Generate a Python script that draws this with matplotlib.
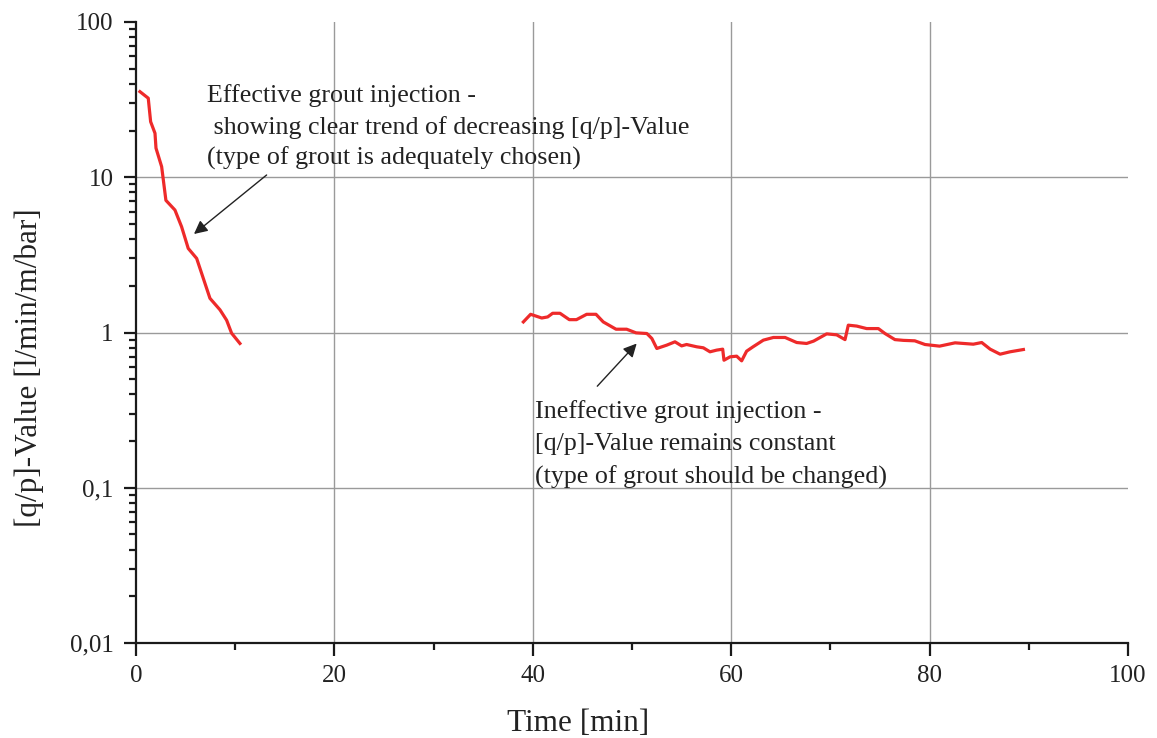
import matplotlib
matplotlib.use("Agg")
import matplotlib.pyplot as plt
from matplotlib.ticker import FixedLocator, LogLocator, NullFormatter

plt.rcParams["font.family"] = ["Liberation Serif", "DejaVu Serif"]

# effective injection: time [min] and q/p value
t_eff = [0.4, 1.24, 1.48, 1.92, 2.02, 2.59, 3.02, 3.93, 4.6, 5.27, 6.12, 7.46, 8.47, 9.14, 9.64, 10.48]
qp_eff = [35.6, 32.3, 22.8, 19.2, 15.4, 11.7, 7.1, 6.15, 4.8, 3.48, 3.0, 1.66, 1.40, 1.2, 0.99, 0.85]

# ineffective injection
t_ineff = [39.05, 39.78, 40.9, 41.5, 42.0, 42.74, 43.68, 44.4, 45.43, 46.37, 47.1, 48.39, 49.46,
           50.4, 51.5, 52.0, 52.5, 53.5, 54.33, 55.0, 55.5, 56.52, 57.19, 57.86, 58.53, 59.14,
           59.27, 59.88, 60.55, 61.05, 61.55, 62.2, 63.24, 64.25, 65.43, 66.6, 67.6, 68.3, 69.62,
           70.63, 71.47, 71.8, 72.65, 73.65, 74.83, 75.5, 76.5, 77.35, 78.5, 79.53, 81.0, 82.56,
           84.4, 85.25, 86.1, 87.1, 88.1, 89.45]
qp_ineff = [1.17, 1.31, 1.24, 1.26, 1.33, 1.33, 1.21, 1.21, 1.31, 1.31, 1.17, 1.05, 1.05,
            0.995, 0.985, 0.915, 0.789, 0.829, 0.871, 0.82, 0.837, 0.809, 0.797, 0.751, 0.77, 0.781,
            0.663, 0.697, 0.704, 0.657, 0.758, 0.809, 0.893, 0.929, 0.929, 0.862, 0.85, 0.88, 0.98,
            0.966, 0.90, 1.115, 1.10, 1.06, 1.06, 0.985, 0.90, 0.89, 0.884, 0.837, 0.817, 0.858,
            0.841, 0.862, 0.781, 0.725, 0.751, 0.777]

x_ticks = [0, 20, 40, 60, 80, 100]
y_ticks = [0.01, 0.1, 1, 10, 100]
y_ticklabels = ["0,01", "0,1", "1", "10", "100"]
x_grid = [20, 40, 60, 80]
y_grid = [0.1, 1, 10]

fig = plt.figure(figsize=(11.57, 7.38), dpi=100)
ax = fig.add_axes([0.1175, 0.1287, 0.8575, 0.8415])

for v in x_grid:
    ax.axvline(v, color="#9a9a9a", lw=1.0, zorder=1)
for v in y_grid:
    ax.axhline(v, color="#9a9a9a", lw=1.0, zorder=1)

ax.plot(t_eff, qp_eff, color="#ee2a2a", lw=2.3, zorder=3)
ax.plot(t_ineff, qp_ineff, color="#ee2a2a", lw=2.3, zorder=3)

ax.set_yscale("log")
ax.set_xlim(0, 100)
ax.set_ylim(0.01, 100)
ax.set_xticks(x_ticks)
ax.xaxis.set_minor_locator(FixedLocator([10, 30, 50, 70, 90]))
ax.set_yticks(y_ticks)
ax.set_yticklabels(y_ticklabels)
ax.yaxis.set_minor_locator(LogLocator(base=10, subs=range(2, 10)))
ax.yaxis.set_minor_formatter(NullFormatter())

for s in ["top", "right"]:
    ax.spines[s].set_visible(False)
for s in ["left", "bottom"]:
    ax.spines[s].set_linewidth(1.6)
    ax.spines[s].set_color("#1a1a1a")

ax.tick_params(which="major", direction="out", length=9, width=1.6, color="#1a1a1a",
               labelsize=18, labelcolor="#222222", pad=7)
ax.tick_params(which="minor", direction="out", length=5, width=1.6, color="#1a1a1a")

ax.set_xlabel("Time [min]", fontsize=22.5, color="#222222")
ax.set_ylabel("[q/p]-Value [l/min/m/bar]", fontsize=22.5, color="#222222")
ax.xaxis.set_label_coords(0.446, -0.106)
ax.yaxis.set_label_coords(-0.093, 0.444)

# annotations
ax.text(7.2, 21, "Effective grout injection -\n showing clear trend of decreasing [q/p]-Value\n(type of grout is adequately chosen)",
        fontsize=18.7, color="#222222", ha="left", va="center", linespacing=1.45)
ax.annotate("", xy=(5.85, 4.31), xytext=(13.17, 10.34),
            arrowprops=dict(arrowstyle="-|>", color="#222222", lw=1.0, mutation_scale=20,
                            shrinkA=0, shrinkB=0))
ax.text(40.2, 0.19, "Ineffective grout injection -\n[q/p]-Value remains constant\n(type of grout should be changed)",
        fontsize=18.7, color="#222222", ha="left", va="center", linespacing=1.6)
ax.annotate("", xy=(50.47, 0.849), xytext=(46.5, 0.451),
            arrowprops=dict(arrowstyle="-|>", color="#222222", lw=1.0, mutation_scale=20,
                            shrinkA=0, shrinkB=0))

fig.savefig("out.png", dpi=100)
